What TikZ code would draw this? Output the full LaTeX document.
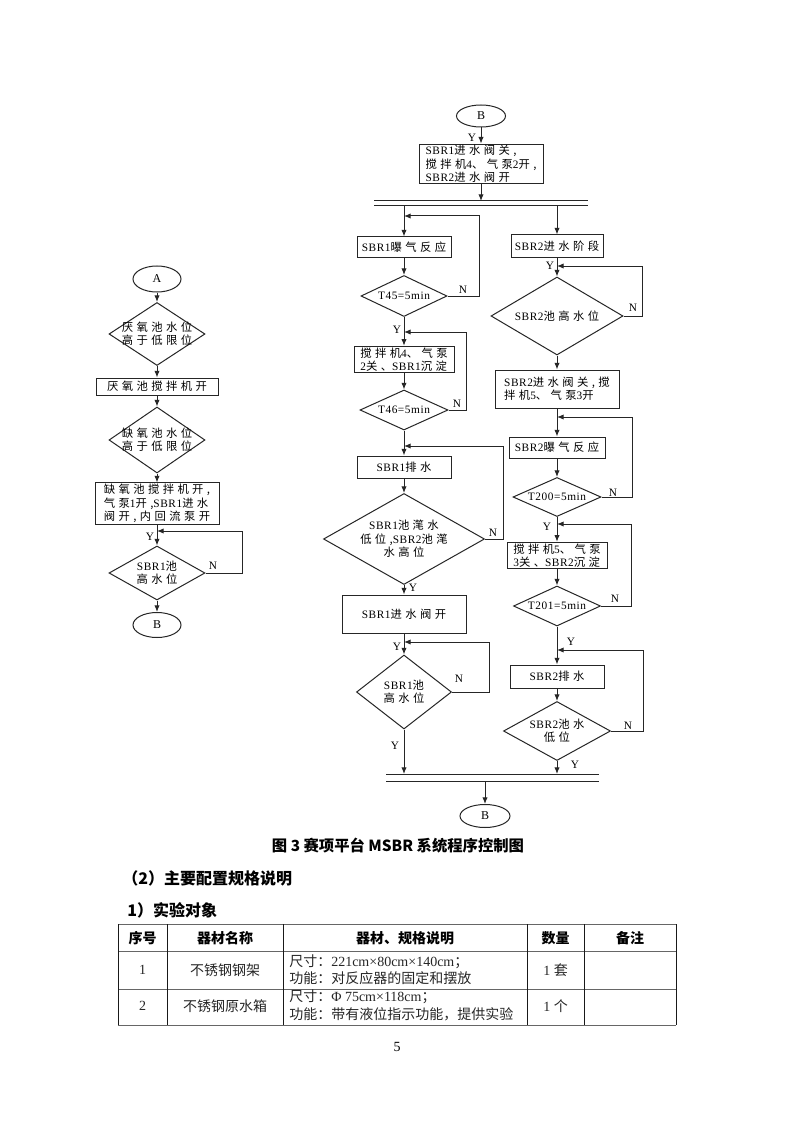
\documentclass[tikz,border=0pt]{standalone}
\usepackage{fontspec}
\setmainfont{Liberation Serif}
\newfontfamily\cjk{Noto Sans CJK SC}
\newfontfamily\cjkfc[LetterSpace=30]{Noto Sans CJK SC}
\newfontfamily\latfc[LetterSpace=5]{Liberation Serif}
\usetikzlibrary{shapes.geometric,arrows.meta}
\newcommand\lat[1]{{\latfc #1}}
\newcommand\flfont{\cjkfc\fontsize{8.5}{10}\selectfont}
\tikzset{
  ln/.style={draw=black!85, line width=0.75pt},
  arr/.style={ln, -{Latex[length=5pt,width=4pt]}},
  bxs/.style={draw=black!85, line width=0.75pt, inner sep=1pt, font=\flfont, align=center},
  dia/.style={diamond, draw=black!85, line width=0.75pt, inner sep=0pt, aspect=1},
  ovl/.style={ellipse, draw=black!85, line width=0.75pt, inner sep=0pt, font=\latfc\fontsize{9}{10}\selectfont},
  lab/.style={font=\flfont, align=center, inner sep=0pt},
  yn/.style={font=\latfc\fontsize{8.5}{9}\selectfont, inner sep=0pt},
  tbh/.style={draw=black!60, line width=0.75pt},
  tbv/.style={draw=black!90, line width=0.75pt},
  tt/.style={font=\cjk\fontsize{10.5}{13}\selectfont, text=black!85, inner sep=0pt},
  th/.style={font=\cjk\bfseries\fontsize{10.5}{14}\selectfont, inner sep=0pt},
}
% box: [opts] name, x1, y1, x2, y2, text
\newcommand\bxn[7][]{\node[bxs, minimum width={(#5-#3)*0.75pt}, minimum height={(#6-#4)*0.75pt}, #1] (#2) at ({(#3+#5)/2},{(#4+#6)/2}) {#7};}
% diamond: name, cx, cy, w, h, text
\newcommand\dm[6]{\node[dia, minimum width={#4*0.75pt}, minimum height={#5*0.75pt}, label={[lab]center:{#6}}] (#1) at (#2,#3) {};}
\begin{document}
\begin{tikzpicture}[x=0.75pt, y=-0.75pt]
\useasboundingbox (0,0) rectangle (794,1123);
\fill[white] (0,0) rectangle (794,1123);

% ---------------- left column ----------------
\node[ovl, minimum width=48*0.75pt, minimum height=26*0.75pt] (A) at (157,279) {A};
\dm{d1}{157}{334}{96}{63}{厌氧池水位\\高于低限位}
\bxn{b1}{96}{378}{218}{395}{厌氧池搅拌机开}
\dm{d2}{157}{440}{96}{66}{缺氧池水位\\高于低限位}
\bxn[align=left]{b2}{95}{484}{219}{523}{缺氧池搅拌机开,\\气泵\lat{1}开,\lat{SBR1}进水\\阀开,内回流泵开}
\dm{d3}{157}{573}{96}{54}{\lat{SBR1}池\\高水位}
\node[ovl, minimum width=48*0.75pt, minimum height=25*0.75pt] (Bl) at (157,625) {B};

\draw[arr] (A) -- (d1);
\draw[arr] (d1) -- (b1);
\draw[arr] (b1) -- (d2);
\draw[arr] (d2) -- (b2);
\draw[arr] (b2) -- (d3);
\coordinate (jl) at (157,531);
\draw[arr] (d3.east) -- ++(37,0) |- (jl);
\draw[arr] (d3) -- (Bl);
\node[yn] (yl1) at (150,537) {Y};
\node[yn] (nl1) at (213,566) {N};

% ---------------- middle / right top ----------------
\node[ovl, minimum width=49*0.75pt, minimum height=22*0.75pt] (Bt) at (481,116) {B};
\bxn[align=left]{c1}{419}{145}{543}{183}{\lat{SBR1}进水阀关,\\搅拌机\lat{4}、气泵\lat{2}开,\\\lat{SBR2}进水阀开}
\draw[arr] (Bt) -- (c1);
\node[yn] (yt) at (472,138) {Y};
\coordinate (bar1in) at (481,201);
\draw[arr] (c1) -- (bar1in);
\draw[ln] (374,201) -- (588,201);
\draw[ln] (374,206) -- (588,206);
\coordinate (bar1l) at (404,206);
\coordinate (bar1r) at (557,206);

% ---------------- SBR1 branch ----------------
\bxn{r1}{357}{237}{451}{257}{\lat{SBR1}曝气反应}
\dm{t45}{404}{296}{86}{41}{\lat{T45=5min}}
\bxn[align=left]{r2}{354}{347}{454}{372}{搅拌机\lat{4}、气泵\\\lat{2}关、\lat{SBR1}沉淀}
\dm{t46}{404}{410}{88}{40}{\lat{T46=5min}}
\bxn{r3}{357}{456}{451}{478}{\lat{SBR1}排水}
\dm{d4}{404}{539}{161}{91}{\lat{SBR1}池滗水\\低位,\lat{SBR2}池滗\\水高位}
\bxn{r4}{342}{595}{466}{633}{\lat{SBR1}进水阀开}
\dm{d5}{404}{692}{95}{74}{\lat{SBR1}池\\高水位}

\draw[arr] (bar1l) -- (r1);
\draw[arr] (r1) -- (t45);
\coordinate (j1) at (404,216);
\draw[arr] (t45.east) -- ++(32,0) |- (j1);
\node[yn] (n1) at (463,290) {N};
\draw[arr] (t45) -- (r2);
\node[yn] (y1) at (397,330) {Y};
\draw[arr] (r2) -- (t46);
\coordinate (j2) at (404,332);
\draw[arr] (t46.east) -- ++(18,0) |- (j2);
\node[yn] (n2) at (457,404) {N};
\draw[arr] (t46) -- (r3);
\coordinate (j3) at (404,446);
\draw[arr] (r3) -- (d4);
\draw[arr] (d4.east) -- ++(18.5,0) |- (j3);
\node[yn] (n3) at (493,533) {N};
\draw[arr] (d4) -- (r4);
\node[yn] (y3) at (413,588) {Y};
\draw[arr] (r4) -- (d5);
\coordinate (j4) at (404,642);
\draw[arr] (d5.east) -- ++(37.5,0) |- (j4);
\node[yn] (y4) at (397,647) {Y};
\node[yn] (n4) at (459,679) {N};
\coordinate (bar2l) at (404,774);
\draw[arr] (d5) -- (bar2l);
\node[yn] (y5) at (395,746) {Y};

% ---------------- SBR2 branch ----------------
\bxn{s1}{511}{235}{603}{257}{\lat{SBR2}进水阶段}
\dm{e1}{557}{316}{132}{78}{\lat{SBR2}池高水位}
\bxn[align=left]{s2}{495}{370}{619}{408}{\lat{SBR2}进水阀关,搅\\拌机\lat{5}、气泵\lat{3}开}
\bxn{s3}{509}{437}{605}{458}{\lat{SBR2}曝气反应}
\dm{t200}{557}{497}{88}{39}{\lat{T200=5min}}
\bxn[align=left]{s4}{507}{544}{607}{567}{搅拌机\lat{5}、气泵\\\lat{3}关、\lat{SBR2}沉淀}
\dm{t201}{557}{606}{87}{40}{\lat{T201=5min}}
\bxn{s5}{510}{665}{604}{688}{\lat{SBR2}排水}
\dm{e2}{557}{731}{107}{59}{\lat{SBR2}池水\\低位}

\draw[arr] (bar1r) -- (s1);
\draw[arr] (s1) -- (e1);
\coordinate (k1) at (557,266);
\draw[arr] (e1.east) -- ++(19,0) |- (k1);
\node[yn] (ys1) at (550,266) {Y};
\node[yn] (ns1) at (633,308) {N};
\draw[arr] (e1) -- (s2);
\draw[arr] (s2) -- (s3);
\coordinate (k2) at (557,417);
\draw[arr] (s3) -- (t200);
\draw[arr] (t200.east) -- ++(31,0) |- (k2);
\node[yn] (ns2) at (613,493) {N};
\draw[arr] (t200) -- (s4);
\coordinate (k3) at (557,524);
\node[yn] (ys3) at (547,527) {Y};
\draw[arr] (s4) -- (t201);
\draw[arr] (t201.east) -- ++(30.5,0) |- (k3);
\node[yn] (ns3) at (615,599) {N};
\draw[arr] (t201) -- (s5);
\coordinate (k4) at (557,650);
\node[yn] (ys4) at (571,642) {Y};
\draw[arr] (s5) -- (e2);
\draw[arr] (e2.east) -- ++(32.5,0) |- (k4);
\node[yn] (ns4) at (628,726) {N};
\coordinate (bar2r) at (557,774);
\draw[arr] (e2) -- (bar2r);
\node[yn] (ys5) at (575,765) {Y};

\draw[ln] (386,774) -- (599,774);
\draw[ln] (386,781) -- (599,781);
\coordinate (bar2c) at (485,781);
\node[ovl, minimum width=50*0.75pt, minimum height=23*0.75pt] (Bb) at (485,816) {B};
\draw[arr] (bar2c) -- (Bb);

% ---------------- text below ----------------
\node[font=\cjk\bfseries\fontsize{11.5}{14}\selectfont, inner sep=0pt] (cap) at (398,846) {图 3 赛项平台 MSBR 系统程序控制图};
\node[font=\cjk\bfseries\fontsize{12}{14}\selectfont, inner sep=0pt, anchor=west] (h2) at (122,878) {（2）主要配置规格说明};
\node[font=\cjk\bfseries\fontsize{12}{14}\selectfont, inner sep=0pt, anchor=west] (h3) at (127,910) {1）实验对象};

% table
\draw[tbh] (118,924) -- (676,924);
\draw[tbh] (118,951) -- (676,951);
\draw[tbh] (118,989) -- (676,989);
\draw[tbh] (118,1025) -- (676,1025);
\foreach \cx in {118,167,283,527,584,676} \draw[tbv] (\cx,924) -- (\cx,1025);

\node[th] (hA) at (142.5,938) {序号};
\node[th] (hB) at (225,938) {器材名称};
\node[th] (hC) at (405,938) {器材、规格说明};
\node[th] (hD) at (555.5,938) {数量};
\node[th] (hE) at (630,938) {备注};

\node[tt, font=\fontsize{10.5}{14}\selectfont] (r1a) at (142.5,970) {1};
\node[tt] (r1b) at (225,970) {不锈钢钢架};
\node[tt, anchor=west, align=left] (r1c) at (289,969.5) {尺寸：\rmfamily 221cm×80cm×140cm\cjk；\\功能：对反应器的固定和摆放};
\node[tt] (r1d) at (555.5,970) {\rmfamily 1 \cjk 套};

\node[tt, font=\fontsize{10.5}{14}\selectfont] (r2a) at (142.5,1006) {2};
\node[tt] (r2b) at (225,1006) {不锈钢原水箱};
\node[tt, anchor=west, align=left] (r2c) at (289,1005.5) {尺寸：\rmfamily Φ 75cm×118cm\cjk；\\功能：带有液位指示功能，提供实验};
\node[tt] (r2d) at (555.5,1006) {\rmfamily 1 \cjk 个};

\node[font=\fontsize{10.5}{12}\selectfont, inner sep=0pt] (pg) at (397,1047) {5};
\end{tikzpicture}
\end{document}
